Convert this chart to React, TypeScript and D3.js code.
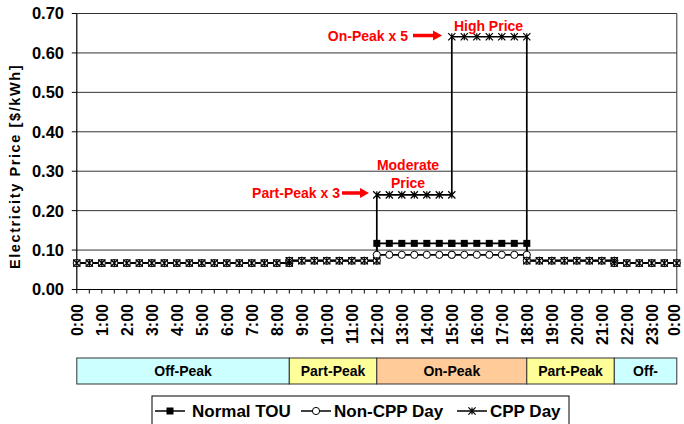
import React from "react";
import * as d3 from "d3";

const times = [0, 0.5, 1, 1.5, 2, 2.5, 3, 3.5, 4, 4.5, 5, 5.5, 6, 6.5, 7, 7.5, 8, 8.5,
  8.5, 9, 9.5, 10, 10.5, 11, 11.5, 12,
  12, 12.5, 13, 13.5, 14, 14.5, 15,
  15, 15.5, 16, 16.5, 17, 17.5, 18,
  18, 18.5, 19, 19.5, 20, 20.5, 21, 21.5,
  21.5, 22, 22.5, 23, 23.5, 24];

const normalTou = [0.067, 0.067, 0.067, 0.067, 0.067, 0.067, 0.067, 0.067, 0.067, 0.067, 0.067, 0.067, 0.067, 0.067, 0.067, 0.067, 0.067, 0.067,
  0.073, 0.073, 0.073, 0.073, 0.073, 0.073, 0.073, 0.073,
  0.117, 0.117, 0.117, 0.117, 0.117, 0.117, 0.117,
  0.117, 0.117, 0.117, 0.117, 0.117, 0.117, 0.117,
  0.073, 0.073, 0.073, 0.073, 0.073, 0.073, 0.073, 0.073,
  0.067, 0.067, 0.067, 0.067, 0.067, 0.067];

const nonCppDay = [0.067, 0.067, 0.067, 0.067, 0.067, 0.067, 0.067, 0.067, 0.067, 0.067, 0.067, 0.067, 0.067, 0.067, 0.067, 0.067, 0.067, 0.067,
  0.073, 0.073, 0.073, 0.073, 0.073, 0.073, 0.073, 0.073,
  0.088, 0.088, 0.088, 0.088, 0.088, 0.088, 0.088,
  0.088, 0.088, 0.088, 0.088, 0.088, 0.088, 0.088,
  0.073, 0.073, 0.073, 0.073, 0.073, 0.073, 0.073, 0.073,
  0.067, 0.067, 0.067, 0.067, 0.067, 0.067];

const cppDay = [0.067, 0.067, 0.067, 0.067, 0.067, 0.067, 0.067, 0.067, 0.067, 0.067, 0.067, 0.067, 0.067, 0.067, 0.067, 0.067, 0.067, 0.067,
  0.073, 0.073, 0.073, 0.073, 0.073, 0.073, 0.073, 0.073,
  0.24, 0.24, 0.24, 0.24, 0.24, 0.24, 0.24,
  0.641, 0.641, 0.641, 0.641, 0.641, 0.641, 0.641,
  0.073, 0.073, 0.073, 0.073, 0.073, 0.073, 0.073, 0.073,
  0.067, 0.067, 0.067, 0.067, 0.067, 0.067];

const hourLabels = ["0:00", "1:00", "2:00", "3:00", "4:00", "5:00", "6:00", "7:00", "8:00", "9:00", "10:00", "11:00",
  "12:00", "13:00", "14:00", "15:00", "16:00", "17:00", "18:00", "19:00", "20:00", "21:00", "22:00", "23:00", "0:00"];

const yTicks = [0, 0.1, 0.2, 0.3, 0.4, 0.5, 0.6, 0.7];

const periodNames = ["Off-Peak", "Part-Peak", "On-Peak", "Part-Peak", "Off-"];
const periodStart = [0, 8.5, 12, 18, 21.5];
const periodEnd = [8.5, 12, 18, 21.5, 24];
const periodColors = ["#CCFFFF", "#FFFF99", "#FFCC99", "#FFFF99", "#CCFFFF"];

const seriesNames = ["Normal TOU", "Non-CPP Day", "CPP Day"];

const FONT = "'Liberation Sans', Arial, Helvetica, sans-serif";

function Marker({ kind, x, y }: { kind: number; x: number; y: number }) {
  if (kind === 0) {
    return <rect x={x - 3.5} y={y - 3.5} width={7} height={7} fill="#000" />;
  }
  if (kind === 1) {
    return <circle cx={x} cy={y} r={3.6} fill="#fff" stroke="#000" strokeWidth={1} />;
  }
  const s = 3.6;
  return (
    <path
      d={`M${x - s},${y - s}L${x + s},${y + s}M${x - s},${y + s}L${x + s},${y - s}M${x},${y - s}L${x},${y + s}`}
      stroke="#000"
      strokeWidth={1.2}
      fill="none"
    />
  );
}

export default function App() {
  const x = d3.scaleLinear().domain([0, 24]).range([76.8, 676.8]);
  const y = d3.scaleLinear().domain([0, 0.7]).range([289.5, 13.5]);
  const series = [normalTou, nonCppDay, cppDay];
  const line = d3
    .line<number>()
    .x((_, i) => x(times[i]))
    .y((v) => y(v));
  const halfTicks = d3.range(0, 24.01, 0.5);
  const bandTop = 358;
  const bandH = 26;

  const legendItems = [
    { sx: 155, tx: 192 },
    { sx: 301, tx: 334 },
    { sx: 457, tx: 490 },
  ];

  return (
    <svg
      width={684}
      height={424}
      style={{ position: "absolute", left: 0, top: 0, background: "#fff" }}
      fontFamily={FONT}
    >
      {/* gridlines */}
      {yTicks.slice(1).map((t) => (
        <line key={t} x1={x(0)} x2={x(24)} y1={y(t)} y2={y(t)} stroke="#333" strokeWidth={1} />
      ))}
      {/* right border */}
      <line x1={x(24)} x2={x(24)} y1={y(0.7)} y2={y(0)} stroke="#333" strokeWidth={1} />
      {/* axes */}
      <line x1={x(0)} x2={x(0)} y1={y(0.7)} y2={y(0)} stroke="#000" strokeWidth={1.2} />
      <line x1={x(0)} x2={x(24)} y1={y(0)} y2={y(0)} stroke="#000" strokeWidth={1.2} />
      {yTicks.map((t) => (
        <g key={t}>
          <line x1={x(0) - 5} x2={x(0)} y1={y(t)} y2={y(t)} stroke="#000" />
          <text x={64} y={y(t)} dy="0.36em" textAnchor="end" fontSize={16.5} fontWeight="bold">
            {t.toFixed(2)}
          </text>
        </g>
      ))}
      {halfTicks.map((h) => (
        <line key={h} x1={x(h)} x2={x(h)} y1={y(0)} y2={y(0) + 4} stroke="#000" />
      ))}
      {hourLabels.map((lab, i) => (
        <text
          key={i}
          transform={`translate(${x(i)},${304}) rotate(-90)`}
          dy={i === hourLabels.length - 1 ? "0.22em" : "0.36em"}
          textAnchor="end"
          fontSize={16}
          fontWeight="bold"
        >
          {lab}
        </text>
      ))}
      {/* y title */}
      <text
        transform={`translate(20,166.5) rotate(-90)`}
        textAnchor="middle"
        fontSize={14.5}
        fontWeight="bold"
        letterSpacing={1.6}
      >
        Electricity Price [$/kWh]
      </text>

      {/* series lines */}
      {series.map((s, i) => (
        <path key={i} d={line(s) || ""} fill="none" stroke="#000" strokeWidth={1.7} />
      ))}
      {series.map((s, i) => (
        <g key={i}>
          {s.map((v, j) => (
            <Marker key={j} kind={i} x={x(times[j])} y={y(v)} />
          ))}
        </g>
      ))}

      {/* annotations */}
      <text x={408} y={41} textAnchor="end" fontSize={14} fontWeight="bold" fill="#FF0000">
        On-Peak x 5
      </text>
      <line x1={413} x2={434} y1={35.5} y2={35.5} stroke="#FF0000" strokeWidth={3.5} />
      <path d="M433,30.5L442,35.5L433,40.5Z" fill="#FF0000" />
      <text x={488.5} y={30.5} textAnchor="middle" fontSize={14} fontWeight="bold" fill="#FF0000">
        High Price
      </text>
      <text x={408} y={169.5} textAnchor="middle" fontSize={14} fontWeight="bold" fill="#FF0000">
        Moderate
      </text>
      <text x={408} y={187.5} textAnchor="middle" fontSize={14} fontWeight="bold" fill="#FF0000">
        Price
      </text>
      <text x={340} y={198} textAnchor="end" fontSize={14} fontWeight="bold" fill="#FF0000">
        Part-Peak x 3
      </text>
      <line x1={342} x2={361} y1={193} y2={193} stroke="#FF0000" strokeWidth={3.5} />
      <path d="M360,188L369,193L360,198Z" fill="#FF0000" />

      {/* period band */}
      {periodNames.map((p, i) => (
        <g key={i}>
          <rect
            x={x(periodStart[i])}
            y={bandTop}
            width={x(periodEnd[i]) - x(periodStart[i])}
            height={bandH}
            fill={periodColors[i]}
            stroke="#333"
            strokeWidth={1}
          />
          <text
            x={(x(periodStart[i]) + x(periodEnd[i])) / 2}
            y={bandTop + bandH / 2}
            dy="0.36em"
            textAnchor="middle"
            fontSize={14}
            fontWeight="bold"
          >
            {p}
          </text>
        </g>
      ))}

      {/* legend */}
      <rect x={152} y={396} width={417} height={40} fill="#fff" stroke="#000" strokeWidth={1} />
      {seriesNames.map((n, i) => (
        <g key={i}>
          <line x1={legendItems[i].sx} x2={legendItems[i].sx + 30} y1={411} y2={411} stroke="#000" strokeWidth={1.5} />
          <Marker kind={i} x={legendItems[i].sx + 15} y={411} />
          <text x={legendItems[i].tx} y={417} fontSize={17} fontWeight="bold">
            {n}
          </text>
        </g>
      ))}
    </svg>
  );
}
